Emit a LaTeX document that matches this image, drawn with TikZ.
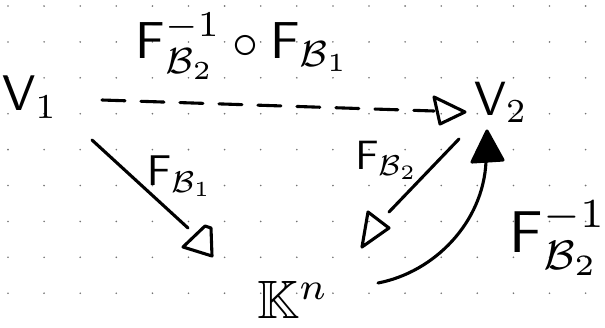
\documentclass[tikz,border=0pt]{standalone}
\usepackage{amssymb}
\begin{document}
\begin{tikzpicture}[x=1pt,y=-1pt,
  ink/.style={line width=3.1pt,line cap=round,line join=round},
  lbl/.style={inner sep=0pt,outer sep=0pt},
  gdot/.style={fill=black!55}]
\useasboundingbox (0,0) rectangle (605,327);
% dotted grid
\foreach \i in {0,...,16}{\foreach \j in {0,...,8}{\fill[gdot] (8+36.1*\i,6+35.9*\j) circle (0.9pt);}}
% nodes
\node[lbl] (V1) at (30,97) {\scalebox{5}{$\mathsf{V}_1$}};
\node[lbl] (V2) at (501,102) {\scalebox{4.8}{$\mathsf{V}_2$}};
\node[lbl] (Kn) at (293,300) {\scalebox{5.4}{$\mathbb{K}^{n}$}};
\node[lbl] (top) at (243,46) {\scalebox{5.2}{$\mathsf{F}_{\mathcal{B}_2}^{-1}\circ\mathsf{F}_{\mathcal{B}_1}$}};
\node[lbl] (l1) at (180,176) {\scalebox{4.3}{$\mathsf{F}_{\mathcal{B}_1}$}};
\node[lbl] (l2) at (387,160) {\scalebox{4.1}{$\mathsf{F}_{\mathcal{B}_2}$}};
\node[lbl] (l3) at (558,238) {\scalebox{5.9}{$\mathsf{F}_{\mathcal{B}_2}^{-1}$}};
% connector end points
\coordinate (a1) at (102,100); \coordinate (a2) at (434,111);
\coordinate (b1) at (92,140);  \coordinate (b2) at (188,228);
\coordinate (c1) at (459,139); \coordinate (c2) at (389,212);
\coordinate (e1) at (378,283); \coordinate (e2) at (486,162);
% dashed V1 -> V2
\draw[ink,dash pattern=on 23pt off 16pt] (a1) -- (a2);
\draw[ink] (434,97) -- (465,112) -- (440,124) -- cycle;
% V1 -> K^n
\draw[ink] (b1) -- (b2);
\draw[ink] (183,247) -- (205,226) -- (211,228) -- (212,256) -- cycle;
% V2 -> K^n
\draw[ink] (c1) -- (c2);
\draw[ink] (368,212) -- (389,228) -- (362,247) -- cycle;
% K^n -> V2
\draw[ink] (e1) .. controls (435,272) and (483,222) .. (e2);
\filldraw[ink] (487,131) -- (472,162) -- (503,160) -- cycle;
\end{tikzpicture}
\end{document}
